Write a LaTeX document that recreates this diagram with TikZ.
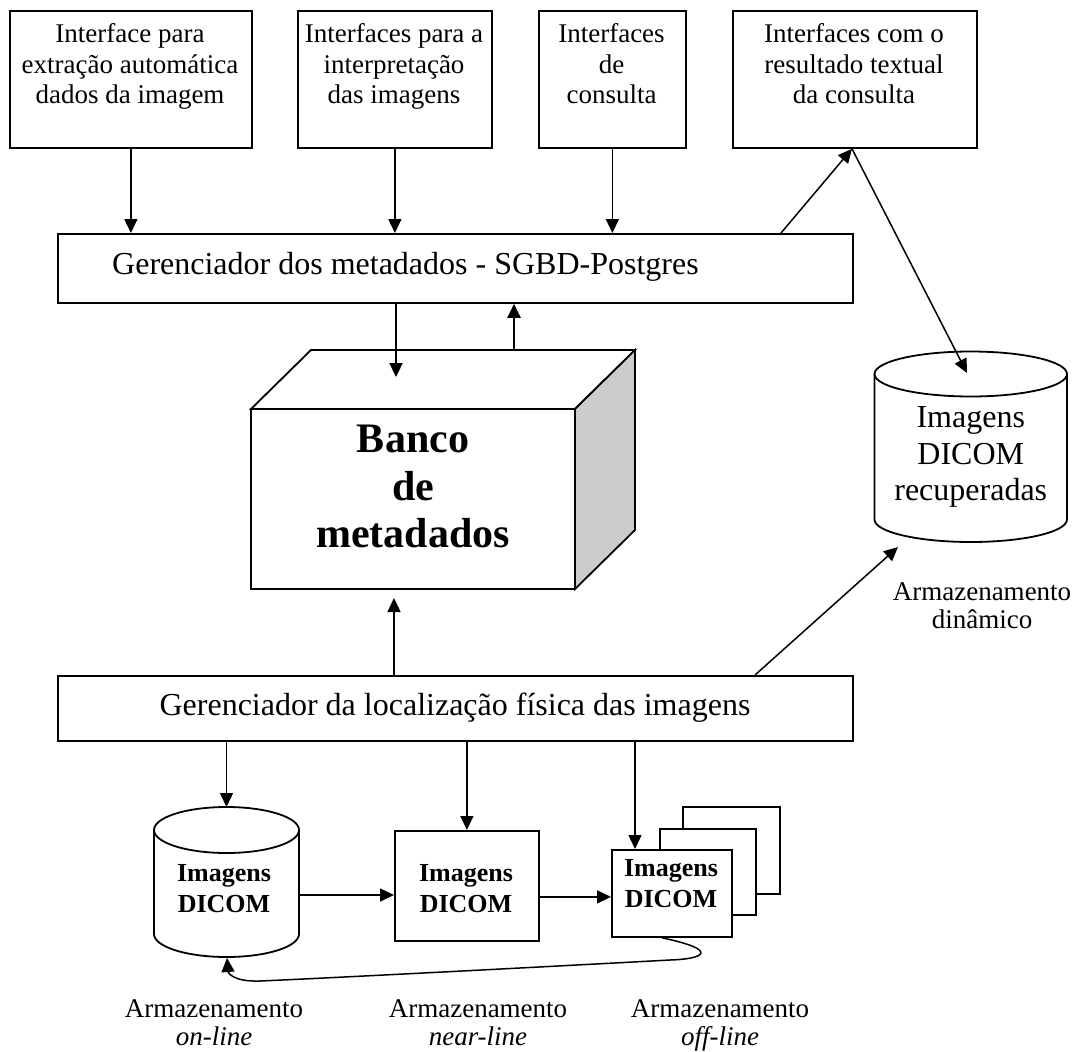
\documentclass[tikz,border=0pt]{standalone}
\usepackage{fontspec}
\setmainfont{Liberation Serif}
\usetikzlibrary{arrows.meta}
\definecolor{sidegray}{RGB}{204,204,204}
\begin{document}
\begin{tikzpicture}[x=1pt,y=-1pt,
  outline/.style={draw=black, line width=1.8pt, line join=miter},
  boxnode/.style={outline, inner sep=0pt, anchor=north west},
  txt/.style={inner sep=0pt, align=center, anchor=north},
  topfont/.style={font=\fontsize{27}{30.5}\selectfont},
  bigfont/.style={font=\fontsize{32}{36.5}\selectfont},
  lblfont/.style={font=\fontsize{27}{28}\selectfont},
  bfont/.style={font=\fontsize{26}{31}\selectfont\bfseries},
  cubefont/.style={font=\fontsize{42}{47.5}\selectfont\bfseries},
  arr/.style={line width=1.5pt, -{Triangle[length=14pt,width=13pt]}},
  thickarr/.style={line width=2.3pt, -{Triangle[length=14pt,width=13pt]}},
]
\useasboundingbox (0,0) rectangle (1074,1052);

% top boxes
\node[boxnode, minimum width=242pt, minimum height=137pt] (b1) at (9,10) {};
\node[boxnode, minimum width=194pt, minimum height=137pt] (b2) at (297,10) {};
\node[boxnode, minimum width=147pt, minimum height=137pt] (b3) at (538,10) {};
\node[boxnode, minimum width=244pt, minimum height=137pt] (b4) at (732,10) {};
\node[txt, topfont] (t1) at (130,23.4) {Interface para\\extração automática\\dados da imagem};
\node[txt, topfont] (t2) at (394,23.4) {Interfaces para a\\interpretação\\das imagens};
\node[txt, topfont] (t3) at (611.5,23.4) {Interfaces\\de\\consulta};
\node[txt, topfont] (t4) at (854,23.4) {Interfaces com o\\resultado textual\\da consulta};

% managers
\node[boxnode, minimum width=795pt, minimum height=69pt] (g1) at (57,233) {};
\node[bigfont, inner sep=0pt, anchor=base west] (g1t) at (112,274) {Gerenciador dos metadados - SGBD-Postgres};
\node[boxnode, minimum width=795pt, minimum height=65pt] (g2) at (57,675) {};
\node[bigfont, inner sep=0pt, anchor=base] (g2t) at (455,715) {Gerenciador da localização física das imagens};

% cube
\draw[outline, fill=white] (251,409) rectangle (575,589);
\draw[outline, fill=white] (251,409) -- (311,350) -- (635,350) -- (575,409) -- cycle;
\draw[outline, fill=sidegray] (575,409) -- (635,350) -- (635,530) -- (575,589) -- cycle;
\node[txt, cubefont] (cube) at (413,425) {Banco\\de\\metadados};

% right cylinder
\draw[outline, fill=white] (874.5,374) -- (874.5,519.5) arc[start angle=180, end angle=0, x radius=96.25, y radius=22.5]
  -- (1067,374) arc[start angle=0, end angle=-180, x radius=96.25, y radius=22.5] -- cycle;
\draw[outline] (874.5,374) arc[start angle=180, end angle=0, x radius=96.25, y radius=22.5];
\node[txt, bigfont] (cylR) at (970.75,406.8) {Imagens\\DICOM\\recuperadas};
\node[txt, lblfont] (ld) at (982,582) {Armazenamento\\dinâmico};

% left cylinder
\draw[outline, fill=white] (154,830) -- (154,934) arc[start angle=180, end angle=0, x radius=72.5, y radius=23]
  -- (299,830) arc[start angle=0, end angle=-180, x radius=72.5, y radius=23] -- cycle;
\draw[outline] (154,830) arc[start angle=180, end angle=0, x radius=72.5, y radius=23];
\node[txt, bfont] (cylL) at (224,864.4) {Imagens\\DICOM};

% near-line box
\node[boxnode, minimum width=144pt, minimum height=110pt] (nbox) at (394,830) {};
\node[txt, bfont] (nt) at (466,864.4) {Imagens\\DICOM};

% off-line stack
\node[boxnode, fill=white, minimum width=97pt, minimum height=87pt] (back) at (682,806) {};
\node[boxnode, fill=white, minimum width=96pt, minimum height=86pt] (mid) at (659,828) {};
\node[boxnode, fill=white, minimum width=120pt, minimum height=87pt] (front) at (611,849) {};
\node[txt, bfont] (ft) at (671,859.4) {Imagens\\DICOM};

% labels
\node[txt, lblfont] (l1) at (214,999) {Armazenamento\\\textit{on-line}};
\node[txt, lblfont] (l2) at (478,999) {Armazenamento\\\textit{near-line}};
\node[txt, lblfont] (l3) at (720,999) {Armazenamento\\\textit{off-line}};

% named endpoints
\coordinate (b4in) at ([xshift=120pt]b4.south west);
\coordinate (g1out) at ([xshift=724pt]g1.north west);
\coordinate (cylRtop) at (967,373);
\coordinate (cylRbot) at (898,547);
\coordinate (g2out) at ([xshift=698pt]g2.north west);
\coordinate (cubein) at (396,377);
\coordinate (cubeout) at (514,350);
\coordinate (cubebot) at (394,598);
\coordinate (cylLtop) at (226.5,807);
\coordinate (cylLright) at (299,895);
\coordinate (cylLbot) at (227,958);
\coordinate (nout) at ([yshift=-11pt]nbox.east);
\coordinate (fin) at ([xshift=24pt]front.north west);
\coordinate (fbot) at ([xshift=51pt]front.south west);

% connectors
\draw[arr] (b1.south) -- (b1.south |- g1.north);
\draw[arr] (b2.south) -- (b2.south |- g1.north);
\draw[arr] (b3.south) -- (b3.south |- g1.north);
\draw[arr] (g1out) -- (b4in);
\draw[arr] (b4in) -- (cylRtop);
\draw[thickarr] (cubein |- g1.south) -- (cubein);
\draw[thickarr] (cubeout) -- (cubeout |- g1.south);
\draw[arr] (cubebot |- g2.north) -- (cubebot);
\draw[arr] (g2out) -- (cylRbot);
\draw[arr] (cylLtop |- g2.south) -- (cylLtop);
\draw[arr] (nbox.north |- g2.south) -- (nbox.north);
\draw[arr] (fin |- g2.south) -- (fin);
\draw[arr] (cylLright) -- (cylLright -| nbox.west);
\draw[arr] (nout) -- (nout -| front.west);
\draw[arr] (fbot) .. controls (720,950) and (705,959) .. (670,960)
  .. controls (560,966) and (330,978) .. (260,981)
  .. controls (232,982) and (228,972) .. (cylLbot);
\end{tikzpicture}
\end{document}
